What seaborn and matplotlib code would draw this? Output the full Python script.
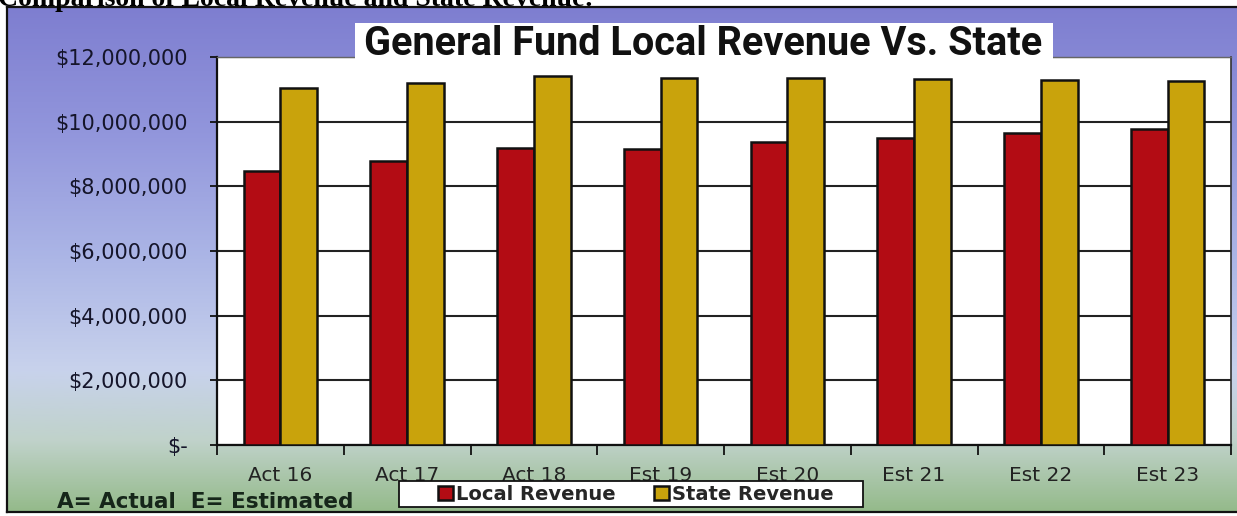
import numpy as np
import pandas as pd
import matplotlib
matplotlib.use("Agg")
import matplotlib.pyplot as plt
from matplotlib.patches import Rectangle
from matplotlib.ticker import FixedLocator, FuncFormatter
import seaborn as sns

# ---- data ----
categories = ["Act 16", "Act 17", "Act 18", "Est 19", "Est 20", "Est 21", "Est 22", "Est 23"]
local_revenue = [8460000, 8780000, 9200000, 9140000, 9360000, 9480000, 9640000, 9770000]
state_revenue = [11040000, 11190000, 11400000, 11350000, 11350000, 11320000, 11290000, 11270000]
series_names = ["Local Revenue", "State Revenue"]
y_ticks = [0, 2000000, 4000000, 6000000, 8000000, 10000000, 12000000]

df = pd.DataFrame({
    "Year": categories * 2,
    "Series": [series_names[0]] * len(categories) + [series_names[1]] * len(categories),
    "Value": local_revenue + state_revenue,
})

sns.set_style("white")
plt.rcParams["font.family"] = ["DejaVu Sans"]

W, H = 1237, 516
fig = plt.figure(figsize=(W / 100, H / 100), dpi=100)
fig.patch.set_facecolor("white")

# ---- gradient background frame ----
bg = fig.add_axes([7 / W, 4 / H, 1 - 7 / W, (512 - 7) / H], zorder=0)
stops = np.array([
    [0.00, 126, 126, 208],
    [0.25, 146, 150, 220],
    [0.50, 172, 182, 230],
    [0.72, 200, 210, 236],
    [0.86, 192, 210, 202],
    [1.00, 148, 186, 138],
])
t = np.linspace(0, 1, 300)
grad = np.stack([np.interp(t, stops[:, 0], stops[:, i]) for i in (1, 2, 3)], axis=1) / 255.0
bg.imshow(grad[:, None, :], aspect="auto", extent=[0, 1, 0, 1], origin="upper")
bg.set_xticks([]); bg.set_yticks([])
for s in ["left", "top", "bottom"]:
    bg.spines[s].set_color("#111111"); bg.spines[s].set_linewidth(1.6)
bg.spines["right"].set_visible(False)

# ---- main axes ----
ax = fig.add_axes([217 / W, (H - 445) / H, (1231 - 217) / W, (445 - 57) / H], zorder=2)
ax.set_facecolor("white")
palette = {"Local Revenue": "#B30C14", "State Revenue": "#C9A30C"}
sns.barplot(data=df, x="Year", y="Value", hue="Series", palette=palette,
            width=0.58, saturation=1, edgecolor="#111111", linewidth=1.8, ax=ax, zorder=3)
ax.set_ylim(0, 12000000)
ax.set_xlim(-0.5, len(categories) - 0.5)
ax.yaxis.set_major_locator(FixedLocator(y_ticks))
ax.yaxis.set_major_formatter(FuncFormatter(lambda v, p: "$-" if v == 0 else f"${v:,.0f}"))
ax.grid(axis="y", color="#222222", linewidth=1.5, zorder=1)
ax.set_axisbelow(True)
ax.set_xlabel(""); ax.set_ylabel("")
ax.tick_params(axis="y", direction="out", length=5, width=1.3, color="#111111",
               pad=16, labelsize=15, labelcolor="#15152a", left=True)
ax.tick_params(axis="x", which="major", length=0, pad=15, labelsize=14.5, labelcolor="#222222")
ax.xaxis.set_minor_locator(FixedLocator(np.arange(-0.5, len(categories), 1.0)))
ax.tick_params(axis="x", which="minor", direction="out", length=7, width=1.3, color="#111111", bottom=True)
for s in ["left", "bottom"]:
    ax.spines[s].set_color("#111111"); ax.spines[s].set_linewidth(1.6)
ax.spines["top"].set_color("#666666"); ax.spines["top"].set_linewidth(1.0)
ax.spines["right"].set_color("#333333"); ax.spines["right"].set_linewidth(1.2)

handles, labels = ax.get_legend_handles_labels()
ax.get_legend().remove()

# legend box
fig.patches.append(Rectangle((399 / W, (H - 507) / H), (863 - 399) / W, (507 - 481) / H,
                             transform=fig.transFigure, facecolor="white", edgecolor="#111111",
                             linewidth=1.3, zorder=4))
leg = fig.legend(handles, labels, loc="center", bbox_to_anchor=(636 / W, (H - 494) / H),
                 ncol=2, frameon=False, prop={"weight": "bold", "size": 14},
                 handlelength=0.75, handleheight=0.75, handletextpad=0.15,
                 columnspacing=2.0, borderpad=0.1, borderaxespad=0)
leg.set_zorder(5)

# ---- title box ----
fig.patches.append(Rectangle((355 / W, (H - 62) / H), (1053 - 355) / W, (62 - 23) / H,
                             transform=fig.transFigure, facecolor="white", edgecolor="none", zorder=3))
fig.text(703 / W, (H - 44) / H, "General Fund Local Revenue Vs. State", ha="center", va="center",
         fontsize=28.5, fontweight="bold", family=["Roboto", "DejaVu Sans"], color="#111111", zorder=4)

# ---- annotations ----
fig.text(57 / W, (H - 502) / H, "A= Actual  E= Estimated", ha="left", va="center",
         fontsize=15.5, fontweight="bold", color="#16261a", zorder=4)
fig.text(-2 / W, (H - 6) / H, "Comparison of Local Revenue and State Revenue:", ha="left",
         va="baseline", fontsize=20, fontweight="bold", family=["Liberation Serif", "DejaVu Serif"],
         color="black", zorder=4)

fig.savefig("out.png", dpi=100)
